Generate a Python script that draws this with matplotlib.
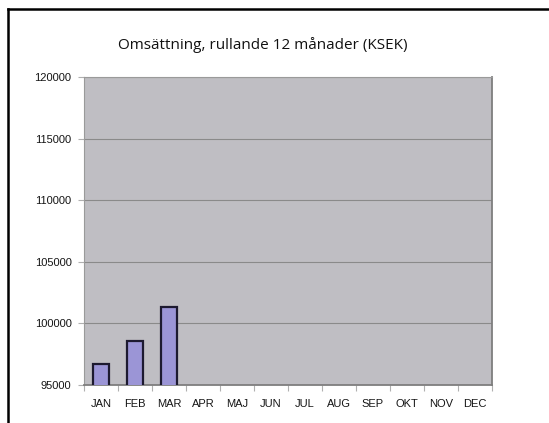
import numpy as np
import matplotlib.pyplot as plt
from matplotlib.lines import Line2D

months = ['JAN', 'FEB', 'MAR', 'APR', 'MAJ', 'JUN', 'JUL', 'AUG', 'SEP', 'OKT', 'NOV', 'DEC']
values = [96700, 98600, 101350]
yticks = [95000, 100000, 105000, 110000, 115000, 120000]

fig = plt.figure(figsize=(5.49, 4.23), dpi=100)
fig.patch.set_facecolor('white')
ax = fig.add_axes([0.153, 0.0898, 0.743, 0.728])
ax.set_facecolor('#bfbec3')

x = np.arange(len(months))
ax.bar(x[:len(values)], values, width=0.46, color='#9b95d6',
       edgecolor='#1d1a30', linewidth=1.6, zorder=3)

ax.set_xlim(-0.5, len(months) - 0.5)
ax.set_ylim(95000, 120000)
ax.set_yticks(yticks)
ax.set_yticklabels([str(v) for v in yticks], fontsize=8, family='Liberation Sans', color='#151515')
ax.yaxis.grid(True, color='#8a8a8a', linewidth=0.8, zorder=1)
ax.set_axisbelow(True)

# month labels centred, tick marks at category borders
ax.set_xticks(x)
ax.set_xticklabels(months, fontsize=8, family='Liberation Sans', color='#151515')
ax.tick_params(axis='x', length=0, pad=10)
ax.set_xticks(np.arange(len(months) + 1) - 0.5, minor=True)
ax.tick_params(axis='x', which='minor', length=4, color='#b0b0b0', width=0.8)
ax.tick_params(axis='y', length=4, color='#b0b0b0', width=0.8, pad=5)

for s in ['left', 'top']:
    ax.spines[s].set_color('#9a9a9a')
    ax.spines[s].set_linewidth(0.8)
for s in ['right', 'bottom']:
    ax.spines[s].set_color('#7e7e7e')
    ax.spines[s].set_linewidth(1.3)

fig.text(0.479, 0.893, 'Omsättning, rullande 12 månader (KSEK)', ha='center', va='center',
         fontsize=11, family='Open Sans', color='#111111')

# black frame at top and left
fig.add_artist(Line2D([0.015, 1.0], [0.979, 0.979], color='black', linewidth=1.8,
                      transform=fig.transFigure))
fig.add_artist(Line2D([0.015, 0.015], [0.0, 0.979], color='black', linewidth=1.8,
                      transform=fig.transFigure))

fig.savefig('out.png', dpi=100)
